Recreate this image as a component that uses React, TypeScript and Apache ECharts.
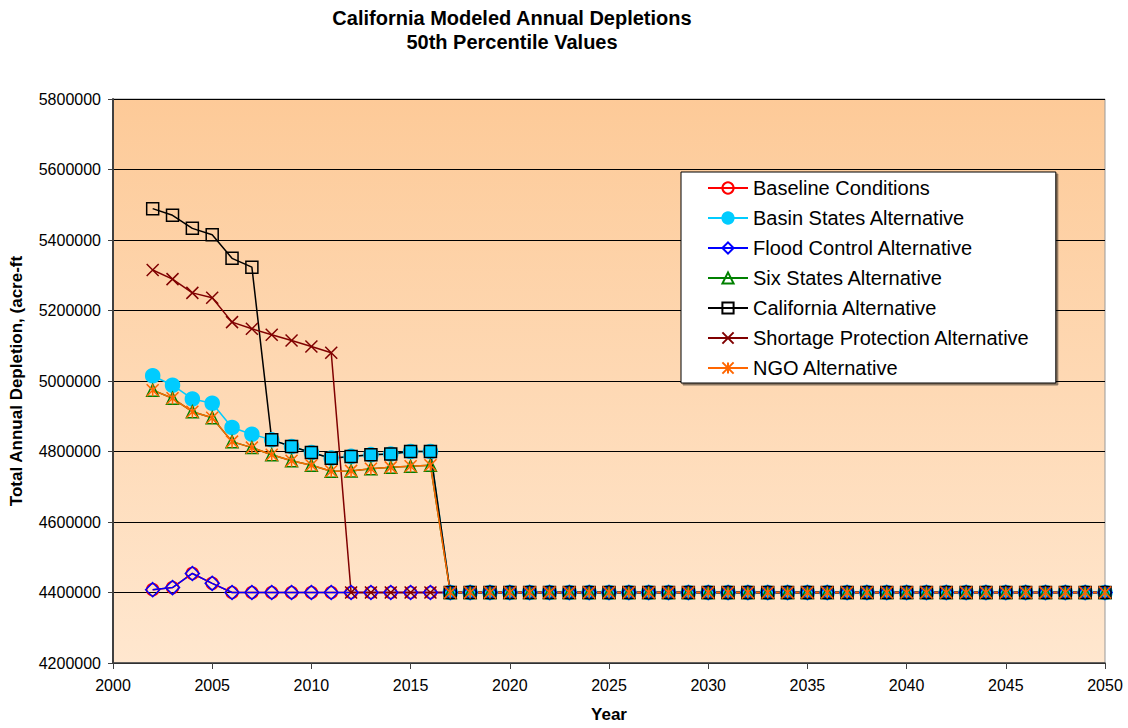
import React, { useEffect, useRef } from "react";
import * as echarts from "echarts";

// ---- Data ----
const headYears = [2002, 2003, 2004, 2005, 2006, 2007, 2008, 2009, 2010, 2011, 2012, 2013, 2014, 2015, 2016];
const tailYears = [
  2017, 2018, 2019, 2020, 2021, 2022, 2023, 2024, 2025, 2026, 2027, 2028, 2029, 2030, 2031, 2032, 2033,
  2034, 2035, 2036, 2037, 2038, 2039, 2040, 2041, 2042, 2043, 2044, 2045, 2046, 2047, 2048, 2049, 2050,
];
const years = [...headYears, ...tailYears];

// all alternatives converge to the same value from 2017 to 2050
const tailValues = [
  4400000, 4400000, 4400000, 4400000, 4400000, 4400000, 4400000, 4400000, 4400000, 4400000, 4400000,
  4400000, 4400000, 4400000, 4400000, 4400000, 4400000, 4400000, 4400000, 4400000, 4400000, 4400000,
  4400000, 4400000, 4400000, 4400000, 4400000, 4400000, 4400000, 4400000, 4400000, 4400000, 4400000,
  4400000,
];

const baselineHead = [4408000, 4414000, 4454000, 4426000, 4400000, 4400000, 4400000, 4400000, 4400000, 4400000, 4400000, 4400000, 4400000, 4400000, 4400000];
const basinHead = [5015000, 4988000, 4949000, 4937000, 4868000, 4849000, 4833000, 4814000, 4797000, 4781000, 4786000, 4791000, 4793000, 4800000, 4800000];
const floodHead = [4408000, 4414000, 4454000, 4426000, 4400000, 4400000, 4400000, 4400000, 4400000, 4400000, 4400000, 4400000, 4400000, 4400000, 4400000];
const sixStatesHead = [4974000, 4951000, 4913000, 4896000, 4828000, 4811000, 4791000, 4774000, 4761000, 4744000, 4745000, 4751000, 4755000, 4758000, 4761000];
const californiaHead = [5489000, 5470000, 5433000, 5415000, 5348000, 5323000, 4833000, 4814000, 4797000, 4781000, 4786000, 4791000, 4793000, 4800000, 4800000];
const shortageHead = [5315000, 5289000, 5250000, 5236000, 5167000, 5148000, 5131000, 5115000, 5098000, 5080000, 4400000, 4400000, 4400000, 4400000, 4400000];
const ngoHead = [4974000, 4951000, 4913000, 4896000, 4828000, 4811000, 4791000, 4774000, 4761000, 4744000, 4745000, 4751000, 4755000, 4758000, 4761000];

const seriesNames = [
  "Baseline Conditions",
  "Basin States Alternative",
  "Flood Control Alternative",
  "Six States Alternative",
  "California Alternative",
  "Shortage Protection Alternative",
  "NGO Alternative",
];

const yTicks = { min: 4200000, max: 5800000, interval: 200000 };
const xTicks = { min: 2000, max: 2050, interval: 5 };

const FONT = "'Liberation Sans', Arial, sans-serif";
const CROSS = "path://M0,0L10,10M10,0L0,10";
const STAR = "path://M5,0L5,10M0,0L10,10M10,0L0,10";

export default function App() {
  const ref = useRef<HTMLDivElement>(null);

  useEffect(() => {
    if (!ref.current) return;
    const chart = echarts.init(ref.current, null, { renderer: "svg" });

    const basinFull = [...basinHead, ...tailValues];
    const pairs = (vals: number[]) => years.map((y, i) => [y, vals[i]]);

    const mk = (
      name: string,
      vals: number[],
      color: string,
      symbol: string,
      size: number,
      filled: boolean,
      extra: any = {}
    ) => ({
      name,
      type: "line",
      data: pairs(vals),
      symbol,
      symbolSize: size,
      showSymbol: true,
      lineStyle: { color, width: 1.5 },
      itemStyle: {
        color: filled ? color : "rgba(0,0,0,0)",
        borderColor: color,
        borderWidth: 1.5,
      },
      emphasis: { disabled: true },
      z: 2,
      ...extra,
    });

    const caliFull = [...californiaHead, ...tailValues];
    const caliSeries = mk(seriesNames[4], caliFull, "#000000", "rect", 12, false);
    // where California coincides with Basin States, the marker appears cyan-filled
    caliSeries.data = years.map((y, i) =>
      i < headYears.length && caliFull[i] === basinFull[i] && i >= 6
        ? { value: [y, caliFull[i]], itemStyle: { color: "#00CCFF", borderColor: "#000", borderWidth: 1.5 } }
        : [y, caliFull[i]]
    ) as any;

    const series = [
      mk(seriesNames[0], [...baselineHead, ...tailValues], "#FF0000", "circle", 12, false),
      mk(seriesNames[1], basinFull, "#00CCFF", "circle", 14, true),
      mk(seriesNames[2], [...floodHead, ...tailValues], "#0000FF", "diamond", 14, false),
      mk(seriesNames[3], [...sixStatesHead, ...tailValues], "#008000", "triangle", 12, false),
      caliSeries,
      mk(seriesNames[5], [...shortageHead, ...tailValues], "#800000", CROSS, 12, true),
      mk(seriesNames[6], [...ngoHead, ...tailValues], "#FF6600", STAR, 12, true),
    ];

    chart.setOption({
      animation: false,
      textStyle: { fontFamily: FONT },
      title: {
        text: "California Modeled Annual Depletions\n50th Percentile Values",
        left: 512,
        top: 6,
        textAlign: "center",
        padding: 0,
        textStyle: { fontFamily: FONT, fontSize: 20, fontWeight: "bold", lineHeight: 24, color: "#000" },
      },
      legend: {
        orient: "vertical",
        left: 681,
        top: 172,
        data: seriesNames,
        itemWidth: 40,
        itemHeight: 14,
        itemGap: 10,
        padding: [6, 26, 5, 26],
        backgroundColor: "#ffffff",
        borderColor: "#000000",
        borderWidth: 1,
        borderRadius: 0,
        shadowColor: "rgba(0,0,0,0.45)",
        shadowOffsetX: 2,
        shadowOffsetY: 2,
        shadowBlur: 0,
        textStyle: { fontFamily: FONT, fontSize: 20, color: "#000" },
        selectedMode: false,
      },
      grid: {
        left: 113,
        right: 23,
        top: 99,
        bottom: 62,
        show: true,
        borderColor: "#999999",
        borderWidth: 1,
        backgroundColor: new echarts.graphic.LinearGradient(0, 0, 0, 1, [
          { offset: 0, color: "#FDCA98" },
          { offset: 1, color: "#FFE7CF" },
        ]),
      },
      xAxis: {
        type: "value",
        min: xTicks.min,
        max: xTicks.max,
        interval: xTicks.interval,
        name: "Year",
        nameLocation: "middle",
        nameGap: 43,
        nameTextStyle: { fontFamily: FONT, fontSize: 17, fontWeight: "bold", color: "#000" },
        axisLine: { show: true, lineStyle: { color: "#404040", width: 1.5 } },
        axisTick: { show: true, length: 6, lineStyle: { color: "#404040" } },
        axisLabel: { fontFamily: FONT, fontSize: 16, color: "#000", margin: 14, formatter: (v: number) => String(v) },
        splitLine: { show: false },
      },
      yAxis: {
        type: "value",
        min: yTicks.min,
        max: yTicks.max,
        interval: yTicks.interval,
        name: "Total Annual Depletion, (acre-ft",
        nameLocation: "middle",
        nameGap: 88,
        nameTextStyle: { fontFamily: FONT, fontSize: 17, fontWeight: "bold", color: "#000" },
        axisLine: { show: true, lineStyle: { color: "#404040", width: 2 } },
        axisTick: { show: true, length: 5, lineStyle: { color: "#404040" } },
        axisLabel: { fontFamily: FONT, fontSize: 16, color: "#000", margin: 12, formatter: (v: number) => String(v) },
        splitLine: { show: true, lineStyle: { color: "#000000", width: 1 } },
      },
      series,
    });

    return () => chart.dispose();
  }, []);

  return (
    <div
      ref={ref}
      style={{ position: "absolute", left: 0, top: 0, width: 1128, height: 728, background: "#fff" }}
    />
  );
}
